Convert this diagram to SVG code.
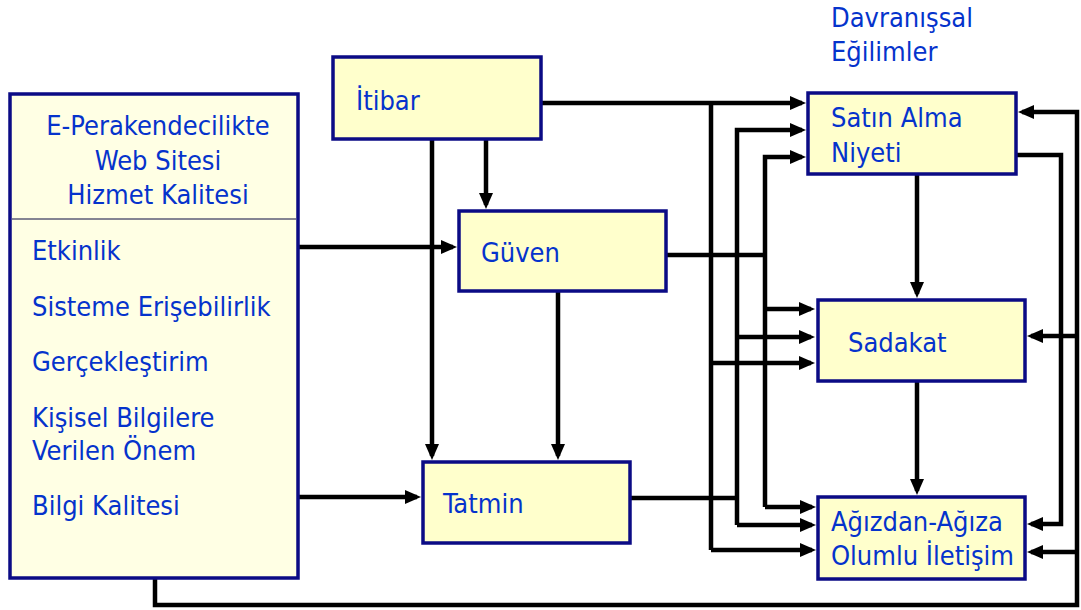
<svg xmlns="http://www.w3.org/2000/svg" width="1081" height="610" viewBox="0 0 1081 610">
<style>
.box{fill:#FFFFCC;stroke:#0B0B85;stroke-width:3.5}
.lbox{fill:#FFFFE4;stroke:#0B0B85;stroke-width:3.5}
.t{font-family:"DejaVu Sans Condensed","DejaVu Sans",sans-serif;font-stretch:condensed;font-size:27px;fill:#0533CC}
.c{fill:none;stroke:#000;stroke-width:4.5}
.a{marker-end:url(#ah)}
</style>
<defs>
<marker id="ah" markerUnits="userSpaceOnUse" markerWidth="16" markerHeight="16" refX="12" refY="8" orient="auto">
<path d="M0,1 L16,8 L0,15 z" fill="#000"/>
</marker>
</defs>
<rect width="1081" height="610" fill="#fff"/>
<g id="connectors">
<path class="c a" d="M298,247 H453"/>
<path class="c a" d="M298,497 H417"/>
<path class="c a" d="M486,139 V205"/>
<path class="c a" d="M432,139 V456"/>
<path class="c a" d="M558,291 V456"/>
<path class="c a" d="M541,103 H802"/>
<path class="c" d="M711,103 V550"/>
<path class="c a" d="M711,550 H812"/>
<path class="c a" d="M711,363 H811"/>
<path class="c" d="M630,498 H737"/>
<path class="c a" d="M737,525 V130 H802"/>
<path class="c a" d="M737,525 H812"/>
<path class="c a" d="M737,337 H811"/>
<path class="c" d="M666,255 H765"/>
<path class="c a" d="M765,507 V157 H802"/>
<path class="c a" d="M765,507 H812"/>
<path class="c a" d="M765,309 H811"/>
<path class="c a" d="M917,174 V294"/>
<path class="c a" d="M917,381 V491"/>
<path class="c a" d="M1016,155 H1061 V524 H1031"/>
<path class="c a" d="M155,578 V605 H1077 V112 H1022"/>
<path class="c a" d="M1077,336 H1031"/>
<path class="c a" d="M1077,552 H1031"/>
</g>
<g id="hizmet-kalitesi">
<rect class="lbox" x="10" y="94" width="288" height="484"/>
<line x1="12" y1="219" x2="296" y2="219" stroke="#0B0B40" stroke-width="1"/>
<text class="t" x="158" y="135" text-anchor="middle">E-Perakendecilikte</text>
<text class="t" x="158" y="170" text-anchor="middle">Web Sitesi</text>
<text class="t" x="158" y="204" text-anchor="middle">Hizmet Kalitesi</text>
<text class="t" x="32" y="260">Etkinlik</text>
<text class="t" x="32" y="316">Sisteme Erişebilirlik</text>
<text class="t" x="32" y="371">Gerçekleştirim</text>
<text class="t" x="32" y="427">Kişisel Bilgilere</text>
<text class="t" x="32" y="460">Verilen Önem</text>
<text class="t" x="32" y="515">Bilgi Kalitesi</text>
</g>
<g id="itibar">
<rect class="box" x="333" y="57" width="208" height="82"/>
<text class="t" x="356" y="110">İtibar</text>
</g>
<g id="guven">
<rect class="box" x="459" y="211" width="207" height="80"/>
<text class="t" x="481" y="262">Güven</text>
</g>
<g id="tatmin">
<rect class="box" x="423" y="462" width="207" height="81"/>
<text class="t" x="443" y="513">Tatmin</text>
</g>
<g id="davranissal-egilimler">
<text class="t" x="831" y="27">Davranışsal</text>
<text class="t" x="831" y="61">Eğilimler</text>
</g>
<g id="satin-alma-niyeti">
<rect class="box" x="808" y="93" width="208" height="81"/>
<text class="t" x="831" y="127">Satın Alma</text>
<text class="t" x="831" y="162">Niyeti</text>
</g>
<g id="sadakat">
<rect class="box" x="818" y="300" width="207" height="81"/>
<text class="t" x="848" y="352">Sadakat</text>
</g>
<g id="agizdan-agiza">
<rect class="box" x="818" y="497" width="207" height="82"/>
<text class="t" x="831" y="531">Ağızdan-Ağıza</text>
<text class="t" x="831" y="565">Olumlu İletişim</text>
</g>
</svg>
